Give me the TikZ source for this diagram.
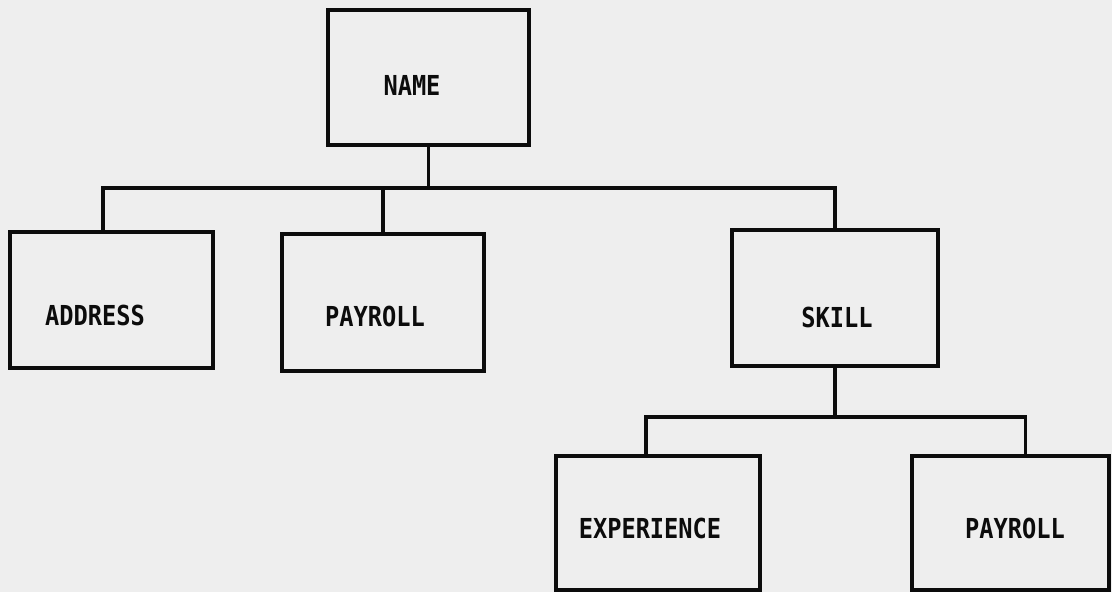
\documentclass[tikz,border=0pt]{standalone}
\usepackage{fontspec}
\newfontfamily\lblfont[FakeStretch=0.86]{DejaVu Sans Mono}
\definecolor{paper}{RGB}{238,238,238}
\definecolor{ink}{RGB}{12,12,12}
\begin{document}
\begin{tikzpicture}[x=1pt,y=-1pt,
  box/.style={draw=ink, line width=3.6pt, inner sep=0pt},
  lbl/.style={font=\lblfont\bfseries\fontsize{27.5}{27.5}\selectfont, text=ink, inner sep=0pt},
  conn/.style={draw=ink, line width=3.2pt}]
\fill[paper] (0,0) rectangle (1112,592);
\useasboundingbox (0,0) rectangle (1112,592);
% boxes
\node[box, minimum width=201pt, minimum height=135pt] (name)    at (428.5,77.5) {};
\node[box, minimum width=203pt, minimum height=136pt] (address) at (111.5,300) {};
\node[box, minimum width=202pt, minimum height=137pt] (payroll) at (383,302.5) {};
\node[box, minimum width=206pt, minimum height=136pt] (skill)   at (835,298) {};
\node[box, minimum width=204pt, minimum height=134pt] (exp)     at (658,523) {};
\node[box, minimum width=197pt, minimum height=134pt] (pay2)    at (1010.5,523) {};
% labels
\node[lbl] (tname)  at (412,85)  {NAME};
\node[lbl] (taddr)  at (95,315)  {ADDRESS};
\node[lbl] (tpay1)  at (375,316) {PAYROLL};
\node[lbl] (tskill) at (837,317) {SKILL};
\node[lbl] (texp)   at (650,528) {EXPERIENCE};
\node[lbl] (tpay2)  at (1015,528) {PAYROLL};
% connectors
\coordinate (bus1) at (0,188);
\coordinate (bus2) at (0,417);
\draw[conn] (name.south) -- (name.south |- bus1);
\draw[conn] ([xshift=-8.5pt]address.north) |- (skill.north |- bus1) -- (skill.north);
\draw[conn] (payroll.north) -- (payroll.north |- bus1);
\draw[conn] (skill.south) -- (skill.south |- bus2);
\draw[conn] ([xshift=-12pt]exp.north) |- ([xshift=15pt]pay2.north |- bus2) -- ([xshift=15pt]pay2.north);
\end{tikzpicture}
\end{document}
